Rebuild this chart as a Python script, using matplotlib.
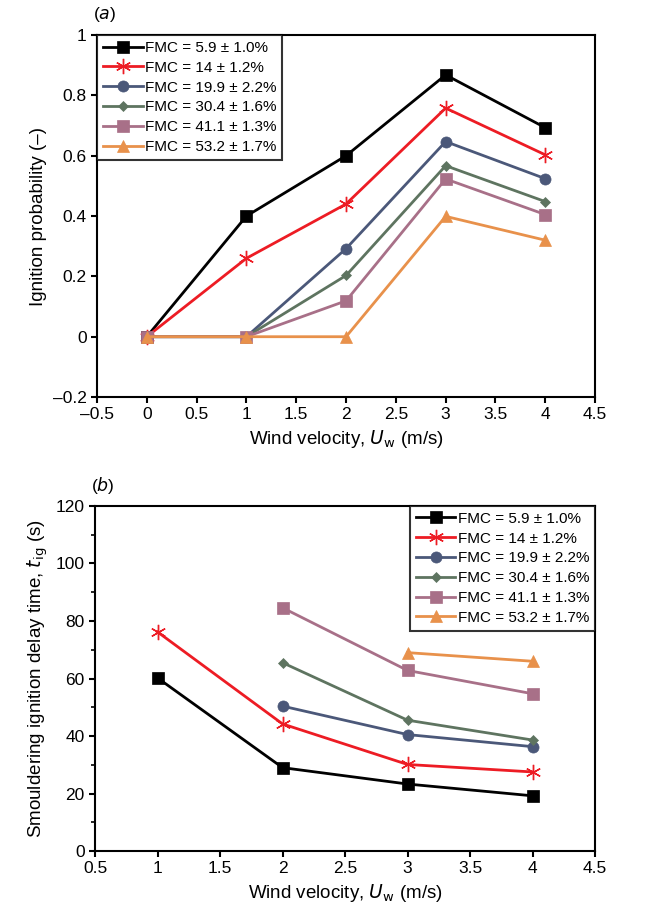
import numpy as np
import matplotlib
matplotlib.use('Agg')
import matplotlib.pyplot as plt
from matplotlib.ticker import FuncFormatter, MultipleLocator

plt.rcParams['font.family'] = ['Liberation Sans', 'DejaVu Sans']

# series labels
labels = ['FMC = 5.9 ± 1.0%', 'FMC = 14 ± 1.2%', 'FMC = 19.9 ± 2.2%',
          'FMC = 30.4 ± 1.6%', 'FMC = 41.1 ± 1.3%', 'FMC = 53.2 ± 1.7%']

# (a) ignition probability vs wind velocity
wind_a = [0, 1, 2, 3, 4]
prob_59 = [0, 0.40, 0.60, 0.868, 0.693]
prob_14 = [0, 0.26, 0.44, 0.758, 0.603]
prob_199 = [0, 0, 0.292, 0.647, 0.524]
prob_304 = [0, 0, 0.203, 0.567, 0.448]
prob_411 = [0, 0, 0.119, 0.523, 0.405]
prob_532 = [0, 0, 0, 0.399, 0.320]

# (b) ignition delay time vs wind velocity
wind_b_59 = [1, 2, 3, 4]
delay_59 = [60.2, 29.0, 23.3, 19.2]
wind_b_14 = [1, 2, 3, 4]
delay_14 = [76.2, 44.2, 30.1, 27.5]
wind_b_199 = [2, 3, 4]
delay_199 = [50.4, 40.5, 36.3]
wind_b_304 = [2, 3, 4]
delay_304 = [65.5, 45.5, 38.6]
wind_b_411 = [2, 3, 4]
delay_411 = [84.6, 62.8, 54.7]
wind_b_532 = [3, 4]
delay_532 = [69.0, 66.0]

colors = ['#000000', '#ED1C24', '#4B5879', '#5E7460', '#A87088', '#E8914B']
markers = ['s', (6, 2, 0), 'o', 'D', 's', '^']
msizes = [8, 11, 8, 5, 8, 8]

fig = plt.figure(figsize=(6.58, 9.14), dpi=100)
ax1 = fig.add_axes([0.1474, 0.5656, 0.757, 0.396])
ax2 = fig.add_axes([0.1444, 0.0689, 0.760, 0.3775])

fmt = FuncFormatter(lambda v, p: ('%g' % round(v, 2)).replace('-', '\u2013'))
label_fs = 13.5


def style_legend(leg):
    leg.get_frame().set_linewidth(1.5)
    leg.get_frame().set_edgecolor('black')


def draw(ax, x, y, c, m, ms, lab):
    ax.plot(x, y, color=c, marker=m, markersize=ms, linewidth=2,
            markeredgewidth=1.0 if m == (6, 2, 0) else 0.5,
            markeredgecolor=c, label=lab)


probs = [prob_59, prob_14, prob_199, prob_304, prob_411, prob_532]
for y, c, m, ms, lab in zip(probs, colors, markers, msizes, labels):
    draw(ax1, wind_a, y, c, m, ms, lab)

ax1.set_xlim(-0.5, 4.5)
ax1.set_ylim(-0.2, 1.0)
ax1.xaxis.set_major_locator(MultipleLocator(0.5))
ax1.yaxis.set_major_locator(MultipleLocator(0.2))
ax1.xaxis.set_major_formatter(fmt)
ax1.yaxis.set_major_formatter(fmt)
ax1.set_xlabel('Wind velocity, $\\it{U}$$_{\\rm w}$ (m/s)', fontsize=label_fs)
ax1.set_ylabel('Ignition probability (\u2013)', fontsize=label_fs)
ax1.text(-0.008, 1.03, '($\\it{a}$)', transform=ax1.transAxes, fontsize=12.5,
         ha='left', va='bottom')
leg1 = ax1.legend(loc='upper left', bbox_to_anchor=(0, 1), borderaxespad=0,
                  fancybox=False, fontsize=11, handlelength=2.6,
                  handletextpad=0.15, labelspacing=0.38, borderpad=0.38)
style_legend(leg1)

delays = [(wind_b_59, delay_59), (wind_b_14, delay_14), (wind_b_199, delay_199),
          (wind_b_304, delay_304), (wind_b_411, delay_411), (wind_b_532, delay_532)]
for (x, y), c, m, ms, lab in zip(delays, colors, markers, msizes, labels):
    draw(ax2, x, y, c, m, ms, lab)

ax2.set_xlim(0.5, 4.5)
ax2.set_ylim(0, 120)
ax2.xaxis.set_major_locator(MultipleLocator(0.5))
ax2.yaxis.set_major_locator(MultipleLocator(20))
ax2.yaxis.set_minor_locator(MultipleLocator(10))
ax2.xaxis.set_major_formatter(fmt)
ax2.yaxis.set_major_formatter(fmt)
ax2.set_xlabel('Wind velocity, $\\it{U}$$_{\\rm w}$ (m/s)', fontsize=label_fs)
ax2.set_ylabel('Smouldering ignition delay time, $\\it{t}$$_{\\rm ig}$ (s)', fontsize=label_fs)
ax2.text(-0.008, 1.03, '($\\it{b}$)', transform=ax2.transAxes, fontsize=12.5,
         ha='left', va='bottom')
leg2 = ax2.legend(loc='upper right', bbox_to_anchor=(1, 1), borderaxespad=0,
                  fancybox=False, fontsize=11, handlelength=2.6,
                  handletextpad=0.15, labelspacing=0.38, borderpad=0.38)
style_legend(leg2)

for ax in (ax1, ax2):
    for s in ax.spines.values():
        s.set_linewidth(1.5)
    ax.tick_params(which='major', direction='out', length=4, width=1.5, labelsize=12.5)
    ax.tick_params(which='minor', direction='out', length=3, width=1.2)

fig.savefig('out.png', dpi=100)
